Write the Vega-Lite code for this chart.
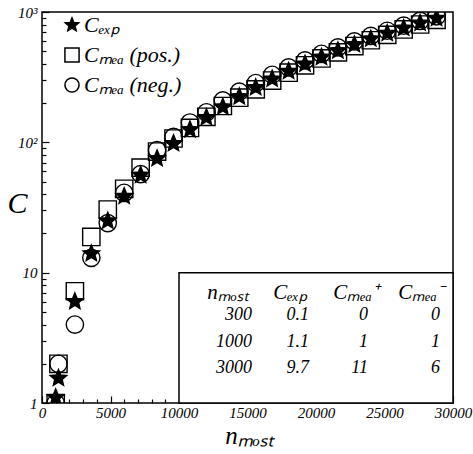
{
  "$schema": "https://vega.github.io/schema/vega-lite/v6.json",
  "width": 411,
  "height": 391,
  "autosize": "none",
  "padding": {"left": 42, "top": 12, "right": 20, "bottom": 51},
  "background": "white",
  "config": {
    "view": {"stroke": "black", "strokeWidth": 1.5},
    "font": "Liberation Serif",
    "axis": {
      "grid": false,
      "domain": false,
      "labelFont": "Liberation Serif",
      "labelFontStyle": "italic",
      "labelFontSize": 15,
      "labelColor": "black",
      "tickColor": "black",
      "tickWidth": 1.2,
      "labelFlush": false,
      "labelOverlap": false,
      "titleFont": "Liberation Serif",
      "titleFontStyle": "italic",
      "titleFontWeight": "normal",
      "titleColor": "black"
    },
    "legend": {
      "labelFont": "Liberation Serif",
      "labelFontStyle": "italic",
      "labelFontSize": 22,
      "labelColor": "black"
    }
  },
  "layer": [
    {
      "data": {
        "values": [
          {"n": 1000, "C": 1.0, "s": "Cₘₑₐ (pos.)"},
          {"n": 1200, "C": 2.0, "s": "Cₘₑₐ (pos.)"},
          {"n": 2400, "C": 7.2, "s": "Cₘₑₐ (pos.)"},
          {"n": 3600, "C": 18.8, "s": "Cₘₑₐ (pos.)"},
          {"n": 4800, "C": 30.5, "s": "Cₘₑₐ (pos.)"},
          {"n": 6000, "C": 44, "s": "Cₘₑₐ (pos.)"},
          {"n": 7200, "C": 64, "s": "Cₘₑₐ (pos.)"},
          {"n": 8400, "C": 85, "s": "Cₘₑₐ (pos.)"},
          {"n": 9600, "C": 107, "s": "Cₘₑₐ (pos.)"},
          {"n": 10800, "C": 129, "s": "Cₘₑₐ (pos.)"},
          {"n": 12000, "C": 157, "s": "Cₘₑₐ (pos.)"},
          {"n": 13200, "C": 190, "s": "Cₘₑₐ (pos.)"},
          {"n": 14400, "C": 220, "s": "Cₘₑₐ (pos.)"},
          {"n": 15600, "C": 255, "s": "Cₘₑₐ (pos.)"},
          {"n": 16800, "C": 298, "s": "Cₘₑₐ (pos.)"},
          {"n": 18000, "C": 342, "s": "Cₘₑₐ (pos.)"},
          {"n": 19200, "C": 390, "s": "Cₘₑₐ (pos.)"},
          {"n": 20400, "C": 440, "s": "Cₘₑₐ (pos.)"},
          {"n": 21600, "C": 490, "s": "Cₘₑₐ (pos.)"},
          {"n": 22800, "C": 548, "s": "Cₘₑₐ (pos.)"},
          {"n": 24000, "C": 607, "s": "Cₘₑₐ (pos.)"},
          {"n": 25200, "C": 668, "s": "Cₘₑₐ (pos.)"},
          {"n": 26400, "C": 735, "s": "Cₘₑₐ (pos.)"},
          {"n": 27600, "C": 802, "s": "Cₘₑₐ (pos.)"},
          {"n": 28800, "C": 870, "s": "Cₘₑₐ (pos.)"},
          {"n": 1000, "C": 1.0, "s": "Cₘₑₐ (neg.)"},
          {"n": 1200, "C": 2.0, "s": "Cₘₑₐ (neg.)"},
          {"n": 2400, "C": 4.0, "s": "Cₘₑₐ (neg.)"},
          {"n": 3600, "C": 13.0, "s": "Cₘₑₐ (neg.)"},
          {"n": 4800, "C": 24.0, "s": "Cₘₑₐ (neg.)"},
          {"n": 6000, "C": 41, "s": "Cₘₑₐ (neg.)"},
          {"n": 7200, "C": 57, "s": "Cₘₑₐ (neg.)"},
          {"n": 8400, "C": 87, "s": "Cₘₑₐ (neg.)"},
          {"n": 9600, "C": 110, "s": "Cₘₑₐ (neg.)"},
          {"n": 10800, "C": 142, "s": "Cₘₑₐ (neg.)"},
          {"n": 12000, "C": 170, "s": "Cₘₑₐ (neg.)"},
          {"n": 13200, "C": 210, "s": "Cₘₑₐ (neg.)"},
          {"n": 14400, "C": 245, "s": "Cₘₑₐ (neg.)"},
          {"n": 15600, "C": 285, "s": "Cₘₑₐ (neg.)"},
          {"n": 16800, "C": 330, "s": "Cₘₑₐ (neg.)"},
          {"n": 18000, "C": 376, "s": "Cₘₑₐ (neg.)"},
          {"n": 19200, "C": 425, "s": "Cₘₑₐ (neg.)"},
          {"n": 20400, "C": 478, "s": "Cₘₑₐ (neg.)"},
          {"n": 21600, "C": 535, "s": "Cₘₑₐ (neg.)"},
          {"n": 22800, "C": 595, "s": "Cₘₑₐ (neg.)"},
          {"n": 24000, "C": 655, "s": "Cₘₑₐ (neg.)"},
          {"n": 25200, "C": 718, "s": "Cₘₑₐ (neg.)"},
          {"n": 26400, "C": 785, "s": "Cₘₑₐ (neg.)"},
          {"n": 27600, "C": 855, "s": "Cₘₑₐ (neg.)"},
          {"n": 28800, "C": 925, "s": "Cₘₑₐ (neg.)"},
          {"n": 1000, "C": 1.1, "s": "Cₑₓₚ"},
          {"n": 1200, "C": 1.55, "s": "Cₑₓₚ"},
          {"n": 2400, "C": 6.0, "s": "Cₑₓₚ"},
          {"n": 3600, "C": 14.0, "s": "Cₑₓₚ"},
          {"n": 4800, "C": 24.9, "s": "Cₑₓₚ"},
          {"n": 6000, "C": 38.5, "s": "Cₑₓₚ"},
          {"n": 7200, "C": 56, "s": "Cₑₓₚ"},
          {"n": 8400, "C": 75, "s": "Cₑₓₚ"},
          {"n": 9600, "C": 98, "s": "Cₑₓₚ"},
          {"n": 10800, "C": 125, "s": "Cₑₓₚ"},
          {"n": 12000, "C": 155, "s": "Cₑₓₚ"},
          {"n": 13200, "C": 187, "s": "Cₑₓₚ"},
          {"n": 14400, "C": 224, "s": "Cₑₓₚ"},
          {"n": 15600, "C": 263, "s": "Cₑₓₚ"},
          {"n": 16800, "C": 306, "s": "Cₑₓₚ"},
          {"n": 18000, "C": 351, "s": "Cₑₓₚ"},
          {"n": 19200, "C": 399, "s": "Cₑₓₚ"},
          {"n": 20400, "C": 450, "s": "Cₑₓₚ"},
          {"n": 21600, "C": 505, "s": "Cₑₓₚ"},
          {"n": 22800, "C": 562, "s": "Cₑₓₚ"},
          {"n": 24000, "C": 622, "s": "Cₑₓₚ"},
          {"n": 25200, "C": 686, "s": "Cₑₓₚ"},
          {"n": 26400, "C": 752, "s": "Cₑₓₚ"},
          {"n": 27600, "C": 822, "s": "Cₑₓₚ"},
          {"n": 28800, "C": 895, "s": "Cₑₓₚ"}
        ]
      },
      "layer": [
        {
          "mark": {"type": "point", "opacity": 0},
          "encoding": {
            "x": {
              "field": "n", "type": "quantitative",
              "scale": {"domain": [0, 30000], "nice": false, "zero": false},
              "axis": {
                "orient": "bottom", "labels": false, "title": null, "tickSize": -4,
                "values": [1000, 2000, 3000, 4000, 6000, 7000, 8000, 9000, 11000, 12000, 13000, 14000, 16000, 17000, 18000, 19000, 21000, 22000, 23000, 24000, 26000, 27000, 28000, 29000]
              }
            },
            "y": {
              "field": "C", "type": "quantitative",
              "scale": {"type": "log", "domain": [1, 1000], "nice": false},
              "axis": {
                "orient": "left", "labels": false, "title": null, "tickSize": -4,
                "values": [2, 3, 4, 5, 6, 7, 8, 9, 20, 30, 40, 50, 60, 70, 80, 90, 200, 300, 400, 500, 600, 700, 800, 900]
              }
            }
          }
        },
        {
          "data": {"values": [{}]},
          "mark": {"type": "rect", "fill": "white", "stroke": "black", "strokeWidth": 1.5},
          "encoding": {
            "x": {"datum": 10000, "type": "quantitative", "axis": null},
            "x2": {"datum": 30000},
            "y": {"datum": 10, "type": "quantitative", "axis": null},
            "y2": {"datum": 1}
          }
        },
        {
          "mark": {"type": "point", "stroke": "black", "strokeWidth": 1.4, "opacity": 1, "size": 300, "clip": true},
          "encoding": {
            "x": {
              "field": "n", "type": "quantitative",
              "axis": {
                "orient": "bottom", "tickSize": -7, "labelPadding": 9,
                "values": [0, 5000, 10000, 15000, 20000, 25000, 30000],
                "format": "d",
                "title": "nₘₒₛₜ", "titleFontSize": 25,
                "titleX": 207, "titleY": 40, "titleAlign": "center", "titleBaseline": "alphabetic"
              }
            },
            "y": {
              "field": "C", "type": "quantitative",
              "axis": {
                "orient": "left", "tickSize": -7, "labelPadding": 12,
                "values": [1, 10, 100, 1000],
                "labelExpr": "datum.value == 1000 ? '10³' : datum.value == 100 ? '10²' : datum.value == 10 ? '10' : '1'",
                "title": "C", "titleFontSize": 30, "titleAngle": 0,
                "titleX": -25, "titleY": 191, "titleAlign": "center", "titleBaseline": "middle"
              }
            },
            "shape": {
              "field": "s", "type": "nominal",
              "scale": {
                "domain": ["Cₑₓₚ", "Cₘₑₐ (pos.)", "Cₘₑₐ (neg.)"],
                "range": ["M0,-1L0.2645,-0.3641L0.9511,-0.309L0.428,0.1391L0.5878,0.809L0,0.45L-0.5878,0.809L-0.428,0.1391L-0.9511,-0.309L-0.2645,-0.3641Z", "square", "circle"]
              },
              "legend": {
                "title": null, "orient": "none", "legendX": 19, "legendY": 2,
                "symbolSize": 200, "labelOffset": 1, "rowPadding": 8,
                "encode": {
                  "symbols": {
                    "stroke": {"value": "black"},
                    "strokeWidth": {"value": 1.3}
                  }
                }
              }
            },
            "fill": {
              "field": "s", "type": "nominal",
              "scale": {
                "domain": ["Cₑₓₚ", "Cₘₑₐ (pos.)", "Cₘₑₐ (neg.)"],
                "range": ["black", "transparent", "transparent"]
              },
              "legend": {
                "title": null, "orient": "none", "legendX": 19, "legendY": 2,
                "symbolSize": 200, "labelOffset": 1, "rowPadding": 8,
                "encode": {
                  "symbols": {
                    "stroke": {"value": "black"},
                    "strokeWidth": {"value": 1.3}
                  }
                }
              }
            }
          }
        }
      ],
      "resolve": {"axis": {"x": "independent", "y": "independent"}}
    },
    {
      "layer": [
        {
          "data": {
            "values": [
              {"col": 1, "row": 0, "t": "nₘₒₛₜ"},
              {"col": 2, "row": 0, "t": "Cₑₓₚ"},
              {"col": 3, "row": 0, "t": "Cₘₑₐ⁺"},
              {"col": 4, "row": 0, "t": "Cₘₑₐ⁻"}
            ]
          },
          "mark": {"type": "text", "font": "Liberation Serif", "fontStyle": "italic", "fontSize": 21, "align": "center", "baseline": "middle", "color": "black"},
          "encoding": {
            "x": {"field": "col", "type": "quantitative", "scale": {"domain": [1, 2, 3, 4], "range": [186, 248, 314, 379], "nice": false, "zero": false}, "axis": null},
            "y": {"field": "row", "type": "quantitative", "scale": {"domain": [0, 1], "range": [281, 303], "nice": false, "zero": false}, "axis": null},
            "text": {"field": "t"}
          }
        },
        {
          "data": {
            "values": [
              {"col": 1, "row": 1, "t": "300"},
              {"col": 2, "row": 1, "t": "0.1"},
              {"col": 3, "row": 1, "t": "0"},
              {"col": 4, "row": 1, "t": "0"},
              {"col": 1, "row": 2, "t": "1000"},
              {"col": 2, "row": 2, "t": "1.1"},
              {"col": 3, "row": 2, "t": "1"},
              {"col": 4, "row": 2, "t": "1"},
              {"col": 1, "row": 3, "t": "3000"},
              {"col": 2, "row": 3, "t": "9.7"},
              {"col": 3, "row": 3, "t": "11"},
              {"col": 4, "row": 3, "t": "6"}
            ]
          },
          "mark": {"type": "text", "font": "Liberation Serif", "fontStyle": "italic", "fontSize": 18, "align": "right", "baseline": "middle", "color": "black"},
          "encoding": {
            "x": {"field": "col", "type": "quantitative", "scale": {"domain": [1, 2, 3, 4], "range": [210, 267, 326, 398], "nice": false, "zero": false}, "axis": null},
            "y": {"field": "row", "type": "quantitative", "scale": {"domain": [1, 2, 3], "range": [303, 330, 356], "nice": false, "zero": false}, "axis": null},
            "text": {"field": "t"}
          }
        }
      ],
      "resolve": {"scale": {"x": "independent", "y": "independent"}}
    }
  ],
  "resolve": {"scale": {"x": "independent", "y": "independent", "shape": "independent", "fill": "independent"}}
}
